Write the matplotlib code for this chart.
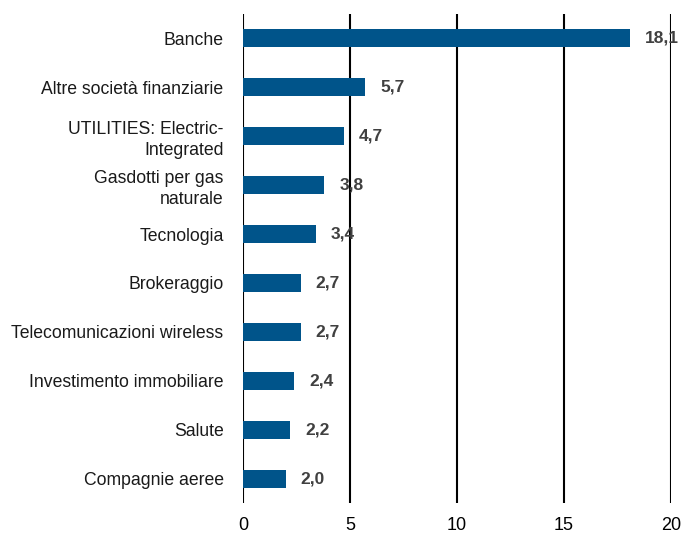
import matplotlib.pyplot as plt

categories = [
    "Banche",
    "Altre società finanziarie",
    "UTILITIES: Electric-\nIntegrated",
    "Gasdotti per gas\nnaturale",
    "Tecnologia",
    "Brokeraggio",
    "Telecomunicazioni wireless",
    "Investimento immobiliare",
    "Salute",
    "Compagnie aeree",
]
values = [18.1, 5.7, 4.7, 3.8, 3.4, 2.7, 2.7, 2.4, 2.2, 2.0]
x_ticks = [0, 5, 10, 15, 20]

plt.rcParams["font.family"] = ["Liberation Sans", "DejaVu Sans"]

fig = plt.figure(figsize=(6.83, 5.38), dpi=100)
ax = fig.add_axes([0.3558, 0.065, 0.6266, 0.909])

pos = list(range(len(categories)))
ax.barh(pos, values, height=0.37, color="#00548a", zorder=2)
for y, v in zip(pos, values):
    ax.text(v + 0.7, y, f"{v:.1f}".replace(".", ","), va="center", ha="left",
            fontsize=12.5, fontweight="bold", color="#404040", zorder=3)

ax.set_xlim(0, 20)
ax.set_ylim(len(categories) - 0.5, -0.5)
ax.set_xticks(x_ticks)
ax.set_yticks(pos)
ax.set_yticklabels(categories, fontsize=12.7, color="#1a1a1a", linespacing=1.3)
ax.tick_params(axis="x", labelsize=13, length=0, pad=10)
ax.tick_params(axis="y", length=0, pad=14)
ax.grid(axis="x", color="black", linewidth=1.5, zorder=1)
for s in ax.spines.values():
    s.set_visible(False)

fig.savefig("out.png", dpi=100)
